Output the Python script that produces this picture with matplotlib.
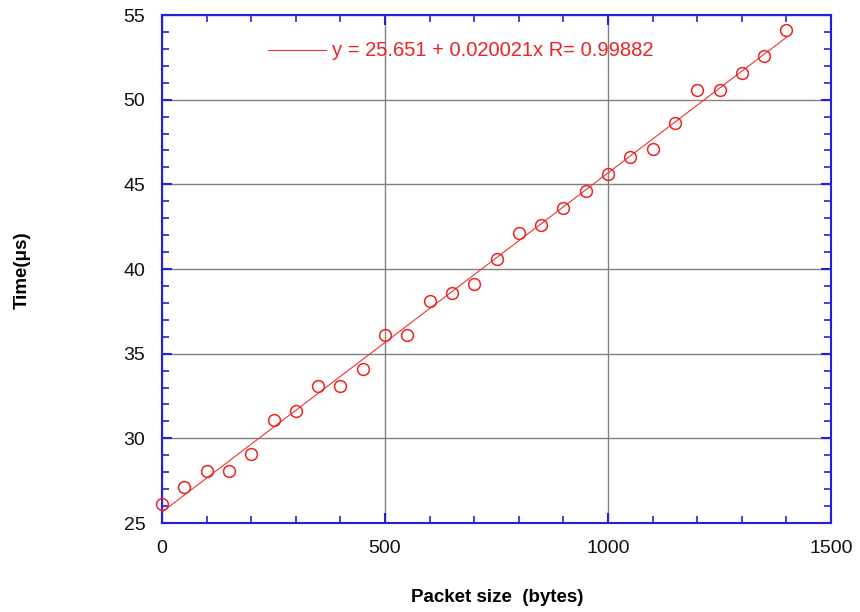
import matplotlib
matplotlib.use("Agg")
import matplotlib.pyplot as plt
import numpy as np
from matplotlib.ticker import MultipleLocator

plt.rcParams['font.family'] = ['Liberation Sans', 'DejaVu Sans']

packet_size = [0, 50, 100, 150, 200, 250, 300, 350, 400, 450, 500, 550, 600, 650, 700,
               750, 800, 850, 900, 950, 1000, 1050, 1100, 1150, 1200, 1250, 1300, 1350, 1400]
time_us = [26.1, 27.1, 28.1, 28.1, 29.1, 31.1, 31.6, 33.1, 33.1, 34.1, 36.1, 36.1, 38.1, 38.6, 39.1,
           40.6, 42.1, 42.6, 43.6, 44.6, 45.6, 46.6, 47.1, 48.6, 50.6, 50.6, 51.6, 52.6, 54.1]
fit_intercept = 25.651
fit_slope = 0.020021
fit_r = 0.99882
fit_label = "y = 25.651 + 0.020021x R= 0.99882"

fig = plt.figure(figsize=(8.6, 6.12), dpi=100)
ax = fig.add_axes([162/860, 1-523/612, 669/860, 508/612])

xs = np.array([packet_size[0], packet_size[-1]])
ax.plot(xs, fit_intercept + fit_slope*xs, color='#ee3333', lw=0.8, zorder=3)
ax.plot(packet_size, time_us, linestyle='none', marker='o', markersize=8.5,
        markerfacecolor='none', markeredgecolor='#ee2222', markeredgewidth=1.1,
        zorder=4, clip_on=False)

ax.set_xlim(0, 1500)
ax.set_ylim(25, 55)
ax.xaxis.set_major_locator(MultipleLocator(500))
ax.xaxis.set_minor_locator(MultipleLocator(100))
ax.yaxis.set_major_locator(MultipleLocator(5))
ax.yaxis.set_minor_locator(MultipleLocator(1))
ax.grid(True, which='major', color='#808080', lw=1.0)
ax.set_axisbelow(True)

blue = '#2222dd'
for s in ax.spines.values():
    s.set_color(blue)
    s.set_linewidth(1.5)
ax.tick_params(which='both', direction='in', top=True, right=True, color=blue,
               labelsize=14, labelcolor='#111111')
ax.tick_params(axis='x', which='both', pad=12)
ax.tick_params(axis='y', which='both', pad=12)
ax.tick_params(which='major', length=7, width=1.5)
ax.tick_params(which='minor', length=5, width=1.2)

fig.text(497/860, 1-598/612, "Packet size  (bytes)", fontsize=13.5, fontweight='bold',
         ha='center', va='center')
fig.text(22/860, 1-270/612, "Time(μs)", fontsize=13.5, fontweight='bold',
         ha='center', va='center', rotation=90)

ax.plot([0.158, 0.245], [0.931, 0.931], transform=ax.transAxes, color='#ee3333', lw=0.8)
ax.text(0.254, 0.931, fit_label, transform=ax.transAxes, color='#ee2222',
        fontsize=14.5, va='center', ha='left')

fig.savefig("out.png", dpi=100)
